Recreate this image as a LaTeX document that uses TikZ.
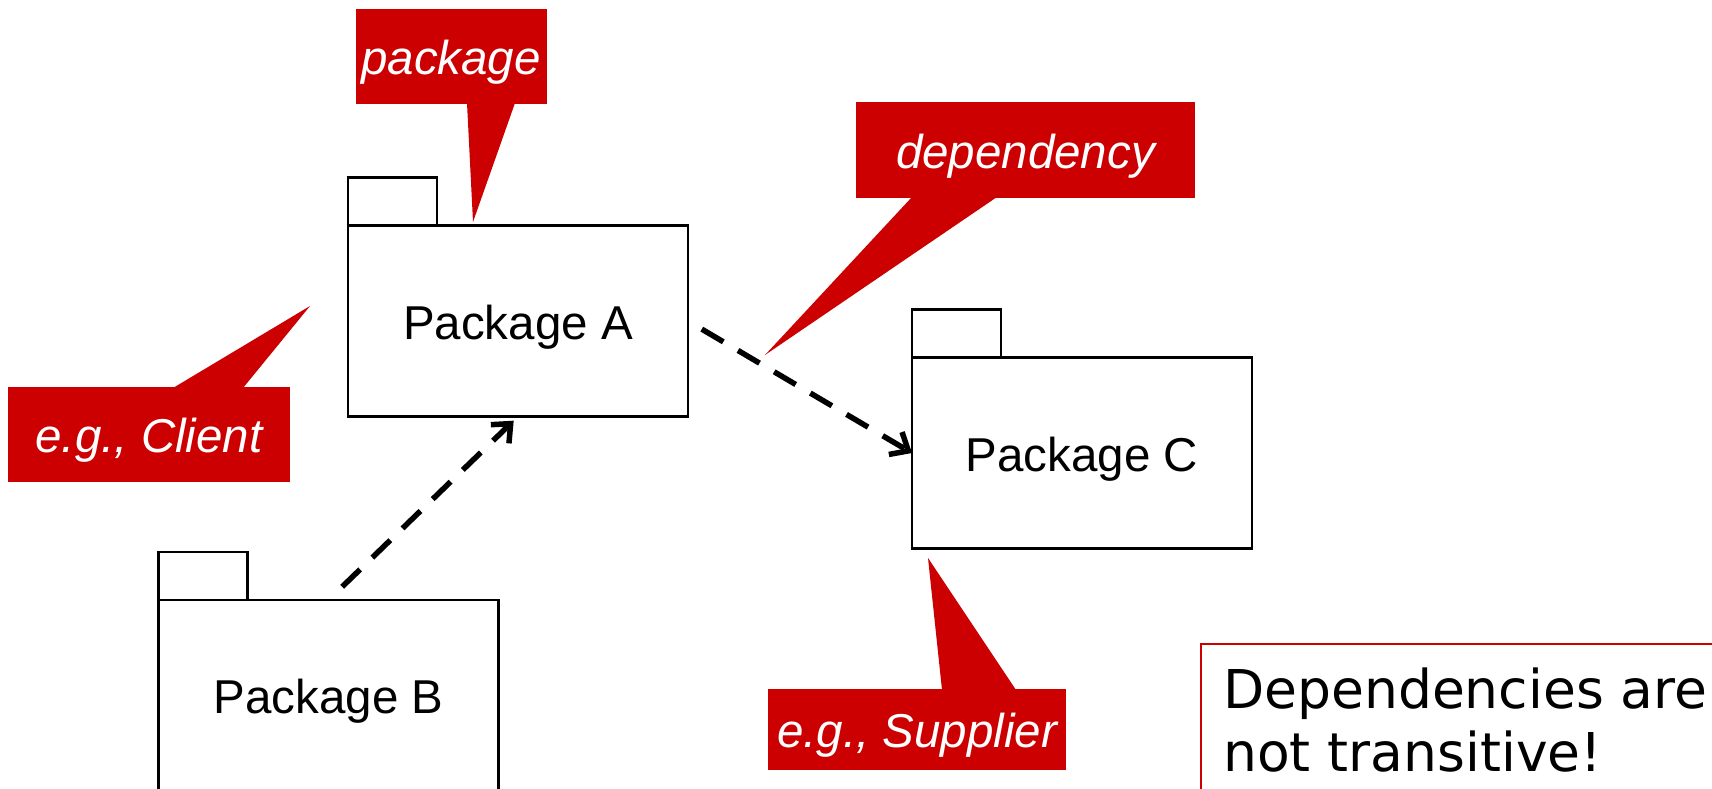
\documentclass[tikz,border=0pt]{standalone}
\usepackage{fontspec}
\setmainfont{Liberation Sans}
\newfontfamily\notefont{DejaVu Sans}
\usetikzlibrary{arrows.meta}
\definecolor{calloutRed}{HTML}{CC0000}

\begin{document}
\begin{tikzpicture}[%
    x=1pt, y=-1pt,
    package/.style={%
        draw,
        rectangle,
        line width=2.7pt,
        outer sep=0pt,
        minimum width=340pt,
        minimum height=191pt,
        text height=36pt,
        text depth=0pt,
        font=\fontsize{47.5}{57}\selectfont
    },
    tab/.style={%
        draw,
        line width=2.7pt
    },
    callout/.style={%
        fill=calloutRed,
        rectangle,
        inner sep=0pt,
        outer sep=0pt,
        text=white,
        text height=36pt,
        text depth=0pt,
        font=\fontsize{47.5}{57}\selectfont\itshape
    },
    pointer/.style={%
        fill=calloutRed
    },
    dependency/.style={%
        draw,
        line width=5.5pt,
        dash pattern=on 25pt off 17pt,
        -{Straight Barb[length=15pt,width=26pt]}
    },
    note/.style={%
        anchor=north west,
        inner sep=0pt,
        align=left,
        font=\notefont\fontsize{53.5}{63}\selectfont
    }
]
\useasboundingbox (0,0) rectangle (1712,789);

% Packages
    \node[package] (packageA) at (518,321) {Package A};
    \node[package] (packageB) at (328.5,695.5) {Package B};
    \node[package] (packageC) at (1082,453) {Package C};

% Tabs
    \draw[tab] (packageA.north west) rectangle ++(89,-48);
    \draw[tab] (packageB.north west) rectangle ++(89,-48);
    \draw[tab] (packageC.north west) rectangle ++(89,-48);

% Callouts
    \node[callout, minimum width=191pt, minimum height=95pt] (calloutPackage) at (451,57) {package};
    \fill[pointer] (467,103) -- (473,222) -- (515,103) -- cycle;

    \node[callout, minimum width=339pt, minimum height=96pt] (calloutDependency) at (1025.5,150) {dependency};
    \fill[pointer] (912,197) -- (765,355) -- (997,197) -- cycle;

    \node[callout, minimum width=282pt, minimum height=95pt] (calloutClient) at (149,434.5) {e.g., Client};
    \fill[pointer] (173,388) -- (310,306) -- (243,388) -- cycle;

    \node[callout, minimum width=298pt, minimum height=81pt] (calloutSupplier) at (917,729.5) {e.g., Supplier};
    \fill[pointer] (942,690) -- (928,558) -- (1016,690) -- cycle;

% Note
    \draw[calloutRed, line width=2pt] (1201,644) rectangle (1730,800);
    \node[note] (noteText) at (1223,668) {Dependencies are\\not transitive!};

% Arrows
\draw[dependency, shorten <=19pt, shorten >=6pt] (packageB.north) -- (packageA.south);
\draw[dependency, shorten <=16pt] (packageA.east) -- (packageC.west);

\end{tikzpicture}
\end{document}
